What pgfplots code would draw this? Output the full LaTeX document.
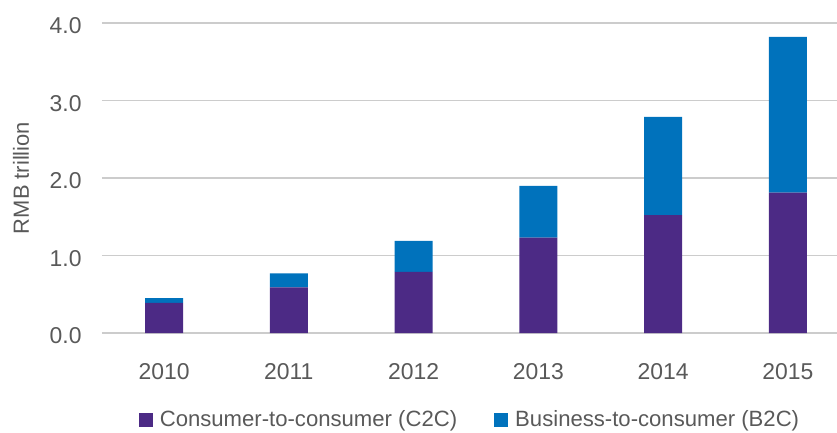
\documentclass[border=0pt]{standalone}
\usepackage{fontspec}
\setmainfont{Liberation Sans}
\usepackage{pgfplots}
\pgfplotsset{compat=1.18}
\definecolor{c2c}{HTML}{4C2A85}
\definecolor{b2c}{HTML}{0072BC}
\definecolor{txt}{HTML}{595959}
\definecolor{grd}{HTML}{CCCCCC}

\begin{document}
\begin{tikzpicture}
% fixed page size, same proportions as the reference
\useasboundingbox (-51bp,-50bp) rectangle (367.5bp,166.5bp);
\begin{axis}[
    at={(0,0)}, anchor=south west,
    scale only axis,
    width=367.5bp, height=155bp,
    ybar stacked, bar width=19bp,
    xmin=-0.497, xmax=5.393,
    ymin=0, ymax=4,
    xtick={0,1,2,3,4,5},
    xticklabels={2010,2011,2012,2013,2014,2015},
    ytick={0,1,2,3,4},
    yticklabel={\pgfmathprintnumber[fixed,fixed zerofill,precision=1]{\tick}},
    /pgf/number format/assume math mode=true,
    axis line style={draw=none},
    major tick length=0pt,
    ymajorgrids,
    grid style={grd, line width=0.75bp},
    tick label style={font=\fontsize{11.5}{13}\selectfont, text=txt},
    yticklabel style={inner sep=0pt, anchor=east, xshift=-10bp, yshift=-1.5bp},
    xticklabel style={inner sep=0pt, anchor=north, yshift=-15bp},
    ylabel={RMB trillion},
    every axis y label/.style={at={(axis description cs:0,0.5)},
        xshift=-40.5bp, rotate=90, anchor=center,
        font=\fontsize{11}{13}\selectfont, text=txt},
    legend columns=2,
    legend style={at={(axis description cs:0.4993,-0.28)}, anchor=center,
        draw=none, fill=none, font=\fontsize{11.1}{13}\selectfont, text=txt,
        nodes={inner sep=0pt},
        /tikz/every odd column/.append style={column sep=3.5bp},
        /tikz/every even column/.append style={column sep=18.5bp}},
    legend image code/.code={\fill[#1] (0bp,-3.5bp) rectangle (7bp,3.5bp);},
]
\addplot[fill=c2c, draw=none] coordinates {
    (0,0.39) (1,0.59) (2,0.79) (3,1.23) (4,1.52) (5,1.81)};
\addlegendentry{Consumer-to-consumer (C2C)}
\addplot[fill=b2c, draw=none] coordinates {
    (0,0.06) (1,0.18) (2,0.40) (3,0.67) (4,1.27) (5,2.01)};
\addlegendentry{Business-to-consumer (B2C)}
\end{axis}
\end{tikzpicture}
\end{document}
